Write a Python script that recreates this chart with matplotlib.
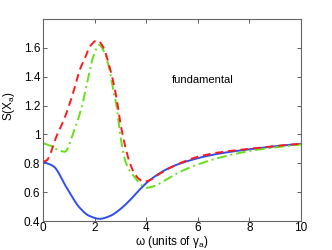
import matplotlib
matplotlib.use("Agg")
import matplotlib.pyplot as plt
import numpy as np
from matplotlib.ticker import FuncFormatter

plt.rcParams['font.family'] = ['Liberation Sans', 'DejaVu Sans']
plt.rcParams['mathtext.fontset'] = 'custom'
plt.rcParams['mathtext.rm'] = 'Liberation Sans'
plt.rcParams['mathtext.it'] = 'Liberation Sans:italic'

# data
blue_x = [0.0, 0.4, 0.92, 1.43, 1.8, 2.2, 2.6, 2.98, 3.4, 3.76, 4.15, 4.92, 5.6, 6.47, 7.2, 8.0, 9.0, 10.0]
blue_y = [0.81, 0.78, 0.63, 0.49, 0.435, 0.415, 0.435, 0.48, 0.55, 0.62, 0.685, 0.77, 0.815, 0.855, 0.878, 0.897, 0.918, 0.935]

red_x = [0.0, 0.14, 0.53, 0.85, 1.17, 1.43, 1.63, 1.82, 2.1, 2.35, 2.53, 2.73, 2.88, 2.98, 3.17, 3.37, 3.56, 3.76, 3.9, 4.1, 4.5, 5.0, 6.0, 7.0, 8.0, 9.0, 10.0]
red_y = [0.81, 0.82, 0.99, 1.12, 1.29, 1.45, 1.53, 1.61, 1.652, 1.60, 1.50, 1.36, 1.22, 1.10, 0.93, 0.80, 0.725, 0.685, 0.672, 0.68, 0.725, 0.775, 0.845, 0.88, 0.9, 0.92, 0.935]

green_x = [0.0, 0.3, 0.6, 0.85, 1.17, 1.5, 1.76, 1.95, 2.18, 2.4, 2.6, 2.73, 2.86, 2.98, 3.24, 3.5, 3.75, 4.0, 4.28, 4.8, 5.3, 6.47, 7.2, 8.0, 9.0, 10.0]
green_y = [0.94, 0.92, 0.89, 0.88, 1.01, 1.19, 1.40, 1.54, 1.62, 1.56, 1.43, 1.30, 1.19, 1.01, 0.79, 0.715, 0.66, 0.63, 0.64, 0.69, 0.74, 0.82, 0.855, 0.885, 0.91, 0.93]

x_ticks = [0, 2, 4, 6, 8, 10]
y_ticks = [0.4, 0.6, 0.8, 1.0, 1.2, 1.4, 1.6]

fig = plt.figure(figsize=(3.32, 2.5), dpi=100)
ax = fig.add_axes([43/332, 29/250, (301-43)/332, (222-20)/250])

def smooth(xs, ys, n=400):
    xs = np.asarray(xs); ys = np.asarray(ys)
    t = np.linspace(xs[0], xs[-1], n)
    h = np.diff(xs); d = np.diff(ys) / h
    m = np.zeros_like(ys)
    for i in range(1, len(xs) - 1):
        if d[i-1] * d[i] > 0:
            w1 = 2*h[i] + h[i-1]; w2 = h[i] + 2*h[i-1]
            m[i] = (w1 + w2) / (w1/d[i-1] + w2/d[i])
    m[0] = d[0]; m[-1] = d[-1]
    idx = np.clip(np.searchsorted(xs, t) - 1, 0, len(xs) - 2)
    hh = h[idx]; s = (t - xs[idx]) / hh
    h00 = 2*s**3 - 3*s**2 + 1; h10 = s**3 - 2*s**2 + s
    h01 = -2*s**3 + 3*s**2; h11 = s**3 - s**2
    y = h00*ys[idx] + h10*hh*m[idx] + h01*ys[idx+1] + h11*hh*m[idx+1]
    return t, y

bx, by = smooth(blue_x, blue_y)
rx, ry = smooth(red_x, red_y)
gx, gy = smooth(green_x, green_y)

ax.plot(bx, by, color='#2e4ff0', lw=1.4, ls='-')
ax.plot(gx, gy, color='#66e01a', lw=1.4, ls=(0, (5, 2, 1, 2)))
ax.plot(rx, ry, color='#ff1a1a', lw=1.4, ls=(0, (4, 2.5)))

ax.set_xlim(0, 10)
ax.set_ylim(0.4, 1.8)
ax.set_xticks(x_ticks)
ax.set_yticks(y_ticks)
ax.yaxis.set_major_formatter(FuncFormatter(lambda v, p: ('%g' % v)))
ax.tick_params(direction='in', top=True, right=True, labelsize=8.5, length=3, width=0.6, colors='#444444', labelcolor='black', pad=2)
ax.tick_params(axis='x', pad=1)
for s in ax.spines.values():
    s.set_color('#666666'); s.set_linewidth(0.8)

ax.text(5.0, 1.38, 'fundamental', fontsize=8, ha='left', va='center')
ax.set_xlabel('ω (units of $\\mathregular{γ_a}$)', fontsize=8.5, labelpad=0)
ax.set_ylabel('S(X$\\mathregular{_a}$)', fontsize=8.5, labelpad=2)
ax.yaxis.set_label_coords(-0.1, 0.57)

fig.savefig('out.png', dpi=100)
